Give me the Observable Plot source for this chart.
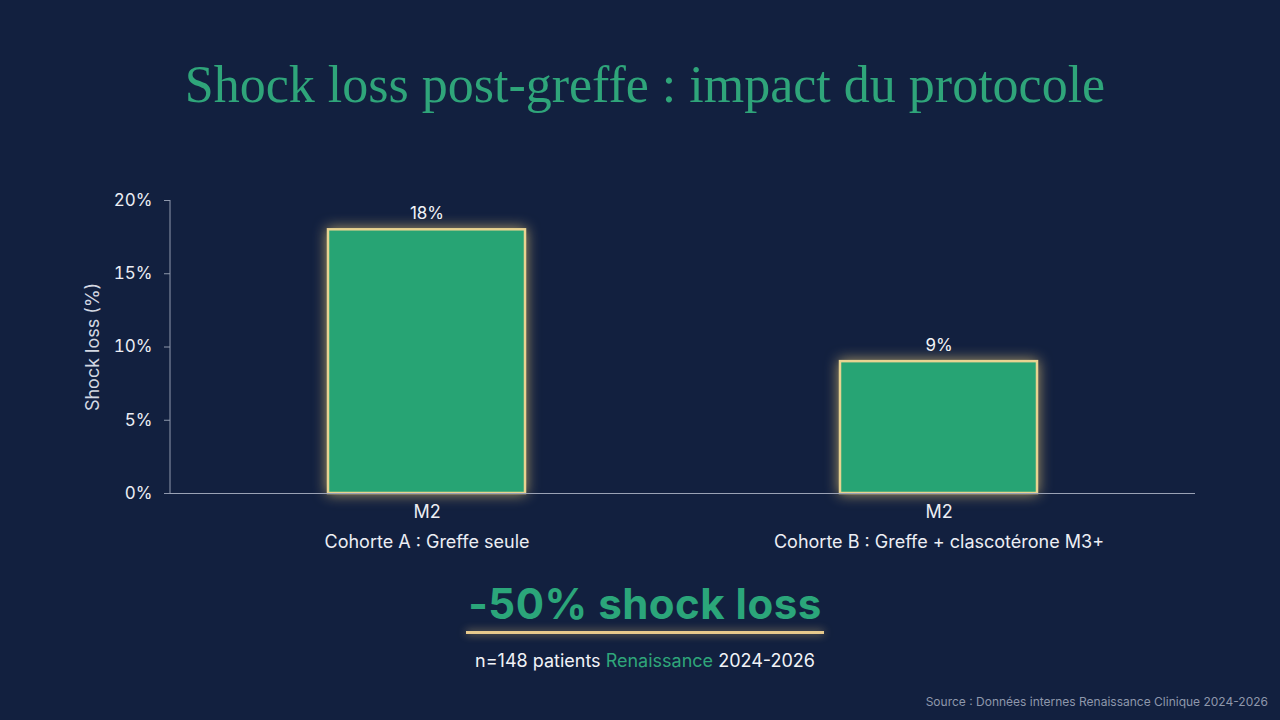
<!DOCTYPE html>
<html><head><meta charset="utf-8">
<script src="https://cdn.jsdelivr.net/npm/d3@7"></script>
<script src="https://cdn.jsdelivr.net/npm/@observablehq/plot@0.6"></script>
<style>
html,body{margin:0;padding:0;background:#12203f;}
#page{position:relative;width:1280px;height:720px;background:#12203f;overflow:hidden;font-family:Inter,"Noto Sans",sans-serif;}
#title{position:absolute;left:5px;width:1280px;top:59px;text-align:center;font-family:"Liberation Serif","DejaVu Serif",serif;font-size:52px;line-height:52px;color:#2fa57a;}
#chart{position:absolute;left:0;top:150px;}
#big{position:absolute;left:5px;width:1280px;top:583px;text-align:center;font-weight:700;font-size:42px;line-height:42px;letter-spacing:0.5px;color:#2ba67a;}
#rule{position:absolute;left:466px;width:358px;top:631px;height:3px;background:#e7c98c;box-shadow:0 0 8px rgba(240,200,120,0.7);}
#sub{position:absolute;left:5px;width:1280px;top:652px;text-align:center;font-size:18px;line-height:18px;color:#f1f3f7;}
#sub span{color:#2fa67a;}
#src{position:absolute;right:12px;top:696px;font-size:12px;line-height:12px;color:#8e97ab;}
</style></head>
<body><div id="page">
<div id="title">Shock loss post-greffe : impact du protocole</div>
<div id="chart"></div>
<div id="big">-50% shock loss</div>
<div id="rule"></div>
<div id="sub">n=148 patients <span>Renaissance</span> 2024-2026</div>
<div id="src">Source : Données internes Renaissance Clinique 2024-2026</div>
</div>
<script>
const cohorts = ["Cohorte A : Greffe seule", "Cohorte B : Greffe + clascotérone M3+"];
const timepoints = ["M2", "M2"];
const shockLoss = [18, 9];
const yTicks = [0, 5, 10, 15, 20];

const data = cohorts.map((c, i) => ({cohort: c, time: timepoints[i], value: shockLoss[i]}));

const chart = Plot.plot({
  width: 1280,
  height: 420,
  marginLeft: 170,
  marginRight: 85,
  marginTop: 50,
  marginBottom: 77,
  style: {background: "transparent", color: "#e6e9f0", fontFamily: "Inter, 'Noto Sans', sans-serif", fontSize: "16px"},
  x: {domain: cohorts, paddingInner: 0.616, paddingOuter: 0.308},
  y: {domain: [0, 20]},
  marks: [
    Plot.axisY({ticks: yTicks, tickFormat: d => d + "%", tickSize: 6, tickPadding: 12, stroke: "#8f98ad", fill: "#eceef4", fontSize: 17,
      label: "Shock loss (%)", labelAnchor: "center", labelOffset: 84, labelArrow: "none"}),
    Plot.axisX({tickSize: 0, tickPadding: 12, tickFormat: (d) => timepoints[cohorts.indexOf(d)], fill: "#eceef4", fontSize: 18, label: null}),
    Plot.axisX({tickSize: 0, tickPadding: 42, tickFormat: d => d, fill: "#eceef4", fontSize: 18, label: null}),
    Plot.barY(data, {x: "cohort", y: "value", fill: "#27a474", stroke: "#e8d391", strokeWidth: 2.5}),
    Plot.ruleY([0], {stroke: "#9aa2b5", strokeWidth: 1.2}),
    Plot.text(data, {x: "cohort", y: "value", text: d => d.value + "%", dy: -16, fill: "#f1f3f7", fontSize: 17})
  ]
});
const bars = chart.querySelector('g[aria-label="bar"]');
if (bars) bars.style.filter = "drop-shadow(0 0 7px rgba(240,205,120,0.7))";
// y-axis label styling (remove arrow if present)
chart.querySelectorAll('g[aria-label="y-axis label"] text').forEach(t => {
  t.textContent = "Shock loss (%)";
  t.setAttribute("font-size", 18);
  t.style.fontSize = "18px";
  t.setAttribute("fill", "#d4d8e2");
});
// left axis line, from y-scale range
const ys = chart.scale("y");
const ns = "http://www.w3.org/2000/svg";
const ln = document.createElementNS(ns, "line");
ln.setAttribute("x1", 170); ln.setAttribute("x2", 170);
ln.setAttribute("y1", ys.apply(20)); ln.setAttribute("y2", ys.apply(0));
ln.setAttribute("stroke", "#8f98ad");
chart.appendChild(ln);
document.getElementById("chart").appendChild(chart);
</script>
</body></html>
